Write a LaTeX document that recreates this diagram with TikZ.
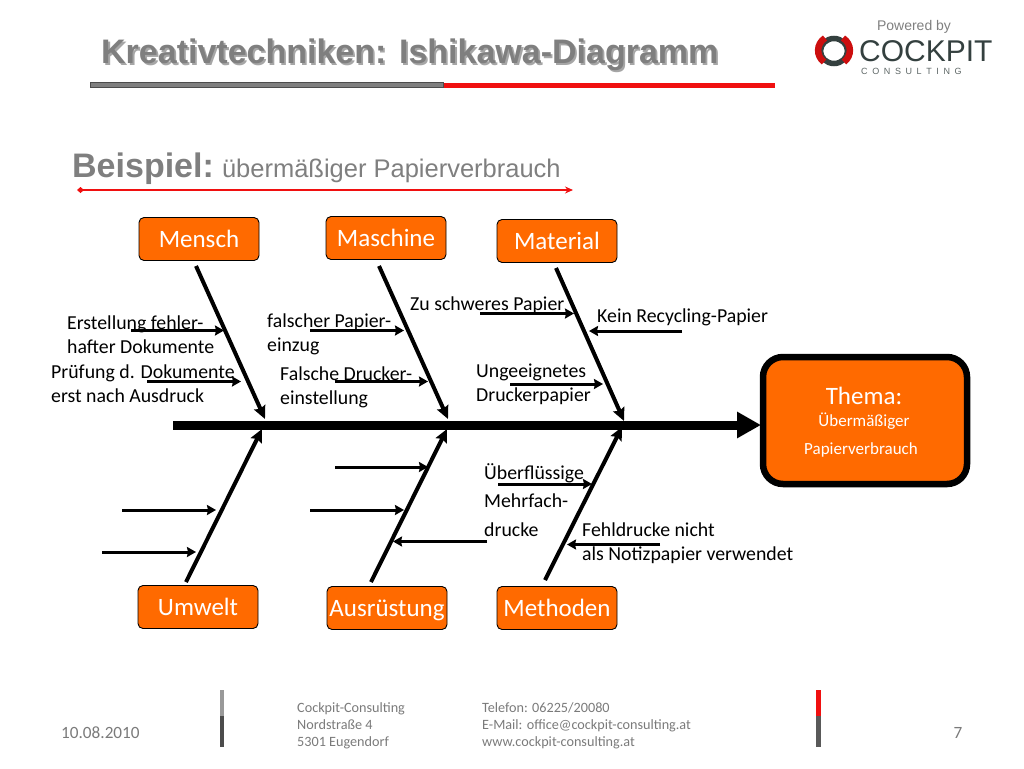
\documentclass[tikz,border=0pt]{standalone}
\usepackage{fontspec}
\setmainfont{Carlito}
\newfontfamily\headfont{Liberation Sans}
\usetikzlibrary{arrows.meta}
\definecolor{ink}{HTML}{000000}
\definecolor{boxfill}{HTML}{FF6A00}
\definecolor{headgray}{HTML}{7F7F7F}
\definecolor{footgray}{HTML}{7A7A7A}
\definecolor{barred}{HTML}{F01010}
\definecolor{logodark}{HTML}{34403F}
\tikzset{
  causebox/.style={draw=ink,fill=boxfill,rounded corners=5pt,line width=0.9pt,minimum width=120pt,minimum height=43pt,text=white,inner sep=0pt,text height=22pt,text depth=5pt,font=\fontsize{25}{28}\selectfont},
  rib/.style={draw=ink,line width=4pt,-{Stealth[length=13pt,width=12pt,inset=2pt]}},
  twig/.style={draw=ink,line width=3pt,-{Stealth[length=9pt,width=10pt,inset=1pt]}},
  lbl/.style={anchor=west,inner sep=0pt,align=left,text=ink,font=\fontsize{19.8}{24.2}\selectfont},
  foot/.style={anchor=west,inner sep=0pt,align=left,text=footgray,font=\fontsize{14.2}{17}\selectfont}
}
\begin{document}
\begin{tikzpicture}[x=1pt,y=-1pt,>=Stealth,every node/.style={font=\small}]
  \useasboundingbox (0,0) rectangle (1024,768);
  % header
  \node[anchor=west,inner sep=0pt,text=black!35,font=\headfont\bfseries\fontsize{34}{36}\selectfont] (titleshadow) at (102.8,56.4) {Kreativtechniken: Ishikawa-Diagramm};
  \node[anchor=west,inner sep=0pt,text=headgray,font=\headfont\bfseries\fontsize{34}{36}\selectfont] (title) at (101,55) {Kreativtechniken: Ishikawa-Diagramm};
  \fill[barred] (437,83) rectangle (775,88);
  \draw[draw=black!70,fill=headgray,line width=1pt] (90.5,82.5) rectangle (443.5,87);
  \node[anchor=center,inner sep=0pt,text=headgray,font=\headfont\fontsize{14}{16}\selectfont] (powered) at (914,27) {Powered by};
  % logo
  \draw[logodark,line width=5.5pt] (834,51) ellipse (13.5 and 12.5);
  \draw[barred!85!black,line width=6.5pt] (825,38) .. controls (816,44) and (816,56) .. (824,62);
  \draw[barred!85!black,line width=6.5pt] (843,38) .. controls (852,44) and (852,56) .. (844,62);
  \node[anchor=west,inner sep=0pt,text=logodark,font=\headfont\fontsize{30}{32}\selectfont] (cockpit) at (859,51) {COCKPIT};
  \node[anchor=west,inner sep=0pt,text=logodark!80,font=\headfont\fontsize{9}{10}\selectfont] (consulting) at (861,71) {C\hspace{4.6pt}O\hspace{4.6pt}N\hspace{4.6pt}S\hspace{4.6pt}U\hspace{4.6pt}L\hspace{4.6pt}T\hspace{4.6pt}I\hspace{4.6pt}N\hspace{4.6pt}G};
  % subtitle
  \node[anchor=base west,inner sep=0pt,text=headgray,font=\headfont\fontsize{25.5}{28}\selectfont] (subtitle) at (72,177) {\fontsize{34}{36}\selectfont\bfseries Beispiel: \hspace{-4.5pt}\fontsize{25.5}{28}\mdseries übermäßiger Papierverbrauch};
  \coordinate (subl) at (77,190);
  \coordinate (subr) at (573,190);
  \draw[barred,line width=1.4pt,{Diamond[length=7pt,width=6pt]}-{Stealth[length=8pt,width=7pt]}] (subl) -- (subr);
  % boxes
  \node[causebox] (mensch) at (199,239) {Mensch};
  \node[causebox] (maschine) at (386,238) {Maschine};
  \node[causebox] (material) at (557,241) {Material};
  \node[causebox] (umwelt) at (198,607) {Umwelt};
  \node[causebox] (ausruestung) at (387,608) {Ausrüstung};
  \node[causebox] (methoden) at (557,608) {Methoden};
  \node[draw=ink,fill=boxfill,rounded corners=20pt,line width=6.5pt,minimum width=204pt,minimum height=127pt] (thema) at (865,420.5) {};
  \node[inner sep=0pt,text=white,font=\fontsize{25}{28}\selectfont] (themahead) at (864,396) {Thema:};
  \node[inner sep=0pt,text=white,font=\fontsize{17}{20}\selectfont] (themaa) at (864,421) {Übermäßiger};
  \node[inner sep=0pt,text=white,font=\fontsize{17}{20}\selectfont] (themab) at (861,450) {Papierverbrauch};
  % spine
  \coordinate (tail) at (173,425);
  \coordinate (head) at (761,425);
  \draw[draw=ink,line width=9pt,-{Triangle[length=24pt,width=25pt]}] (tail) -- (head);
  % ribs
  \coordinate (ma) at (196,266); \coordinate (mb) at (265,419);
  \coordinate (sa) at (379,266); \coordinate (sb) at (448,419);
  \coordinate (ta) at (556,268); \coordinate (tb) at (624,421);
  \coordinate (ua) at (186,582); \coordinate (ub) at (262,429);
  \coordinate (aa) at (371,582); \coordinate (ab) at (447,429);
  \coordinate (da) at (545,580); \coordinate (db) at (622,427);
  \draw[rib] (ma) -- (mb);
  \draw[rib] (sa) -- (sb);
  \draw[rib] (ta) -- (tb);
  \draw[rib] (ua) -- (ub);
  \draw[rib] (aa) -- (ab);
  \draw[rib] (da) -- (db);
  % twigs
  \foreach \xa/\ya/\xb/\yb in {131/330.5/224/330.5,147/381.5/241/381.5,310/330.5/404/330.5,335/381.5/428/381.5,480/313.5/574/313.5,682/331/589/331,510/384/603/384,335/467/428/467,310/510/404/510,487/541.5/393/541.5,122/510/216/510,102/552/196/552,498/484/592/484,660/544.5/567/544.5} {
    \draw[twig] (\xa,\ya) -- (\xb,\yb);
  }
  % labels
  \node[lbl] (la) at (67,335) {Erstellung fehler-\\hafter Dokumente};
  \node[lbl] (lb) at (51,384) {Prüfung d. Dokumente\\erst nach Ausdruck};
  \node[lbl] (lc) at (267,334) {falscher Papier-\\einzug};
  \node[lbl] (ld) at (280,387.5) {Falsche Drucker-\\einstellung};
  \node[lbl] (le) at (410,305) {Zu schweres Papier};
  \node[lbl] (lf) at (597,317) {Kein Recycling-Papier};
  \node[lbl] (lg) at (476,384) {Ungeeignetes\\Druckerpapier};
  \node[lbl,font=\fontsize{19.8}{28.5}\selectfont] (lh) at (484,500) {Überflüssige\\Mehrfach-\\drucke};
  \node[lbl] (li) at (582,543.5) {Fehldrucke nicht\\als Notizpapier verwendet};
  % footer
  \fill[black!40] (220,690) rectangle (224,716);
  \fill[black!70] (220,716) rectangle (224,747);
  \fill[barred] (816,690) rectangle (821,716);
  \fill[black!65] (816,716) rectangle (821,747);
  \node[foot,font=\fontsize{17.2}{20}\selectfont] (datum) at (61,733) {10.08.2010};
  \node[foot] (adresse) at (297,726) {Cockpit-Consulting\\Nordstraße 4\\5301 Eugendorf};
  \node[foot] (kontakt) at (482,726) {Telefon: 06225/20080\\E-Mail: office@cockpit-consulting.at\\www.cockpit-consulting.at};
  \node[foot,font=\fontsize{17.2}{20}\selectfont,anchor=center] (seite) at (958,733) {7};
\end{tikzpicture}
\end{document}
